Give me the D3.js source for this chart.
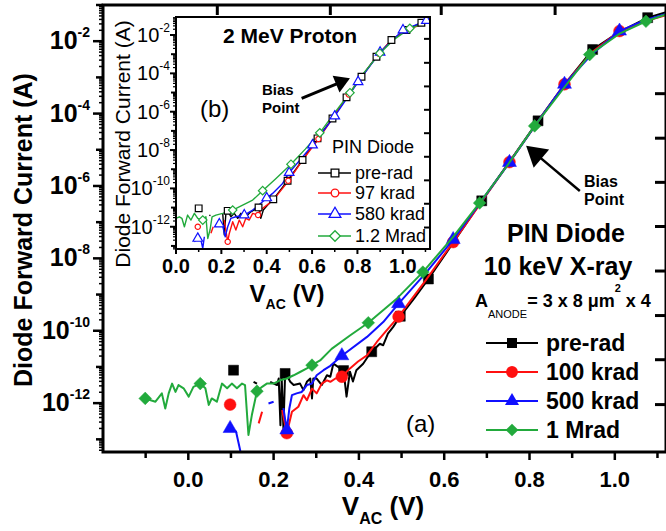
<!DOCTYPE html>
<html>
<head>
<meta charset="utf-8">
<script src="https://cdn.jsdelivr.net/npm/d3@7"></script>
<style>
body{margin:0;background:#fff}
svg{display:block;font-family:"Liberation Sans",Arial,sans-serif}
</style>
</head>
<body>
<div id="chart"></div>
<script>
// ---- data : [V_AC (V), log10 I (A)], null = no data (gap) ----
// main plot (a) 10 keV X-ray
var mainPrerad = [[0.153,-11.41],[0.161,-11.46],[0.175,null],[0.192,-11.41],[0.208,-11.50],[0.212,-11.32],[0.216,-12.61],[0.219,-11.32],[0.223,-12.70],[0.227,-11.18],[0.231,-11.23],[0.239,-11.41],[0.247,-11.50],[0.262,-11.46],[0.270,-11.64],[0.278,-11.41],[0.286,-11.32],[0.290,-11.87],[0.293,-11.32],[0.301,-11.32],[0.313,-11.50],[0.325,-11.23],[0.333,-11.27],[0.340,-10.91],[0.364,-11.10],[0.371,-11.82],[0.379,-11.13],[0.386,-11.40],[0.394,-11.09],[0.410,-10.91],[0.426,-10.63],[0.430,-10.58],[0.449,-10.36],[0.457,-10.40],[0.468,-10.08],[0.480,-9.90],[0.497,-9.60],[0.530,-9.10],[0.563,-8.57],[0.625,-7.50],[0.688,-6.41],[0.755,-5.30],[0.820,-4.20],[0.885,-3.15],[0.948,-2.23],[1.010,-1.75],[1.077,-1.35],[1.120,-1.20]];
var mainPreradMarks = [[0.106,-11.09],[0.227,-11.18],[0.364,-11.10],[0.430,-10.58],[0.497,-9.60],[0.563,-8.57],[0.688,-6.41],[0.820,-4.20],[0.948,-2.23],[1.077,-1.35]];

var main100k = [[0.165,-12.56],[0.173,-12.24],[0.195,null],[0.220,-12.19],[0.231,-12.83],[0.243,-12.24],[0.258,-12.10],[0.270,-11.78],[0.278,-11.92],[0.290,-11.60],[0.301,-11.73],[0.313,-11.46],[0.325,-11.37],[0.333,-11.41],[0.345,-11.32],[0.360,-11.27],[0.379,-11.04],[0.398,-10.85],[0.419,-10.68],[0.442,-10.31],[0.465,-9.99],[0.493,-9.61],[0.557,-8.60],[0.621,-7.55],[0.687,-6.45],[0.753,-5.34],[0.818,-4.25],[0.882,-3.19],[0.947,-2.30],[1.011,-1.72],[1.070,-1.45],[1.120,-1.28]];
var main100kMarks = [[0.098,-12.04],[0.231,-12.83],[0.360,-11.27],[0.493,-9.61],[0.621,-7.55],[0.753,-5.34],[0.882,-3.19],[1.011,-1.72]];

var main500k = [[0.098,-12.70],[0.112,-12.79],[0.122,-13.32],[0.160,null],[0.188,-12.01],[0.200,-11.96],[0.212,null],[0.223,-12.14],[0.231,-12.74],[0.237,-12.14],[0.243,-11.78],[0.254,-11.73],[0.266,-11.69],[0.278,-11.50],[0.290,-11.46],[0.301,-11.23],[0.317,-11.09],[0.333,-10.97],[0.360,-10.69],[0.419,-10.17],[0.457,-9.76],[0.493,-9.25],[0.557,-8.40],[0.621,-7.48],[0.687,-6.42],[0.753,-5.35],[0.818,-4.25],[0.882,-3.19],[0.947,-2.35],[1.011,-1.72],[1.070,-1.42],[1.120,-1.25]];
var main500kMarks = [[0.098,-12.70],[0.231,-12.74],[0.360,-10.69],[0.493,-9.25],[0.621,-7.48],[0.753,-5.35],[0.882,-3.19],[1.011,-1.72]];

var main1M = [[-0.101,-11.87],[-0.077,-11.96],[-0.062,-11.73],[-0.054,-12.15],[-0.046,-11.73],[-0.038,-11.46],[-0.030,-11.69],[-0.023,-11.50],[-0.011,-11.59],[0.001,-11.82],[0.012,-11.55],[0.028,-11.46],[0.040,-11.59],[0.048,-12.05],[0.055,-11.87],[0.067,-11.96],[0.079,-11.46],[0.091,-11.59],[0.102,-11.46],[0.114,-11.59],[0.126,-11.46],[0.133,-11.50],[0.141,-12.88],[0.149,-12.33],[0.161,-11.67],[0.173,-11.55],[0.184,-11.46],[0.200,-11.46],[0.215,-11.37],[0.231,-11.32],[0.247,-11.23],[0.262,-11.14],[0.278,-11.04],[0.290,-10.95],[0.309,-10.82],[0.336,-10.50],[0.379,-10.13],[0.422,-9.78],[0.490,-9.10],[0.550,-8.38],[0.620,-7.42],[0.683,-6.47],[0.750,-5.40],[0.812,-4.34],[0.880,-3.30],[0.941,-2.37],[1.010,-1.80],[1.073,-1.45],[1.120,-1.26]];
var main1MMarks = [[-0.101,-11.87],[0.028,-11.46],[0.161,-11.67],[0.290,-10.95],[0.422,-9.78],[0.550,-8.38],[0.683,-6.47],[0.812,-4.34],[0.941,-2.37],[1.073,-1.45]];

// inset (b) 2 MeV proton
var insetPrerad = [[0.147,-11.39],[0.152,-11.42],[0.180,null],[0.206,-11.30],[0.213,-12.43],[0.220,-11.30],[0.228,-11.17],[0.242,-11.48],[0.257,-11.30],[0.272,-11.56],[0.286,-11.30],[0.308,-11.48],[0.330,-11.22],[0.364,-10.99],[0.374,-11.56],[0.385,-11.13],[0.404,-10.87],[0.429,-10.57],[0.455,-10.17],[0.492,-9.60],[0.558,-8.52],[0.624,-7.39],[0.690,-6.35],[0.752,-5.25],[0.818,-4.18],[0.884,-3.13],[0.950,-2.26],[1.016,-1.74],[1.082,-1.36],[1.120,-1.20]];
var insetPreradMarks = [[0.100,-11.04],[0.228,-11.17],[0.364,-10.99],[0.429,-10.57],[0.492,-9.60],[0.558,-8.52],[0.624,-7.39],[0.690,-6.35],[0.752,-5.25],[0.818,-4.18],[0.884,-3.13],[0.950,-2.26],[1.016,-1.74],[1.082,-1.36]];

var inset97k = [[0.154,-12.34],[0.164,-12.00],[0.190,null],[0.213,-11.65],[0.220,-12.20],[0.228,-12.78],[0.235,-12.35],[0.250,-11.74],[0.264,-12.17],[0.279,-11.65],[0.294,-12.00],[0.308,-11.56],[0.323,-11.65],[0.338,-11.30],[0.360,-11.39],[0.382,-11.04],[0.411,-10.78],[0.441,-10.43],[0.470,-10.00],[0.499,-9.56],[0.558,-8.52],[0.631,-7.39],[0.690,-6.35],[0.752,-5.25],[0.818,-4.18],[0.884,-3.13],[0.950,-2.26],[1.016,-1.74],[1.120,-1.30]];
var inset97kMarks = [[0.096,-12.00],[0.228,-12.78],[0.362,-11.39],[0.495,-9.60],[0.628,-7.42],[0.762,-5.10],[0.895,-2.98],[1.028,-1.68]];

var inset580k = [[0.081,-12.78],[0.096,-12.61],[0.110,-12.69],[0.118,-13.13],[0.125,-12.52],[0.150,null],[0.176,-12.00],[0.191,-11.86],[0.206,-11.96],[0.217,-12.52],[0.228,-12.00],[0.242,-11.56],[0.264,-11.48],[0.301,-11.39],[0.338,-11.13],[0.382,-10.70],[0.426,-10.26],[0.470,-9.74],[0.499,-9.18],[0.602,-7.74],[0.700,-6.23],[0.803,-4.44],[0.900,-2.90],[1.001,-1.74],[1.104,-1.25],[1.120,-1.20]];
var inset580kMarks = [[0.096,-12.61],[0.191,-11.86],[0.301,-11.39],[0.400,-10.50],[0.499,-9.18],[0.602,-7.74],[0.700,-6.23],[0.803,-4.44],[0.900,-2.90],[1.001,-1.74],[1.104,-1.25]];

var inset1M2 = [[0.000,-11.56],[0.015,-11.48],[0.026,-11.56],[0.037,-12.00],[0.051,-11.39],[0.066,-11.65],[0.081,-11.30],[0.096,-11.56],[0.118,-11.65],[0.132,-11.48],[0.140,-12.61],[0.150,-12.17],[0.159,-11.48],[0.176,-11.39],[0.206,-11.30],[0.250,-11.13],[0.294,-10.87],[0.338,-10.61],[0.382,-10.12],[0.441,-9.48],[0.507,-8.74],[0.570,-7.95],[0.634,-7.10],[0.700,-6.05],[0.767,-5.01],[0.830,-3.95],[0.899,-2.95],[0.965,-2.20],[1.031,-1.65],[1.120,-1.30]];
var inset1M2Marks = [[0.118,-11.65],[0.250,-11.13],[0.382,-10.12],[0.507,-8.74],[0.634,-7.10],[0.767,-5.01],[0.899,-2.95],[1.031,-1.65]];

var mainNames = ["pre-rad","100 krad","500 krad","1 Mrad"];
var insetNames = ["pre-rad","97 krad","580 krad","1.2 Mrad"];
var colors = ["#000000","#ff1010","#1010ff","#22aa3c"];

var xMajor = [0.0,0.2,0.4,0.6,0.8,1.0];
var xMinorMain = [-0.1,0.1,0.3,0.5,0.7,0.9,1.1];
var xMinorInset = [0.1,0.3,0.5,0.7,0.9,1.1];
var yLabelExp = [-12,-10,-8,-6,-4,-2];
var topTickV = [0.068,0.333,0.593,0.86];
var rightTickLog = [-2.2,-3.45,-4.68,-5.9,-7.12,-8.35,-9.58,-10.8,-12.04];
// annotation arrows [tail, tip] in data units
var mainArrow = [[0.918,-6.14],[0.792,-4.89]];
var insetArrow = [[0.554,-5.30],[0.767,-4.26]];

var W = 666, H = 531;
var svg = d3.select("#chart").append("svg").attr("width", W).attr("height", H);

// scales
var x = d3.scaleLinear().domain([-0.2, 1.12]).range([103, 666]);
var y = d3.scaleLog().domain([Math.pow(10,-13.35), 0.1]).range([452, 5]);
var xi = d3.scaleLinear().domain([0, 1.12]).range([176, 430]);
var yi = d3.scaleLog().domain([Math.pow(10,-13.16), Math.pow(10,-1.06)]).range([249, 17]);

function p10(e){ return Math.pow(10, e); }

// minor log ticks
function minorLog(sc){
  var out = [], dom = sc.domain();
  for (var e = -14; e <= -1; e++) for (var m = 2; m <= 9; m++) {
    var v = m * p10(e);
    if (v >= dom[0] && v <= dom[1]) out.push(v);
  }
  return out;
}
function hTicks(g, vals, sc, x0, len, sw){
  g.selectAll(null).data(vals).enter().append("line")
    .attr("x1", x0).attr("x2", x0 + len)
    .attr("y1", function(d){ return sc(d); }).attr("y2", function(d){ return sc(d); })
    .attr("stroke", "#000").attr("stroke-width", sw);
}
function vTicks(g, vals, sc, y0, len, sw){
  g.selectAll(null).data(vals).enter().append("line")
    .attr("y1", y0).attr("y2", y0 + len)
    .attr("x1", function(d){ return sc(d); }).attr("x2", function(d){ return sc(d); })
    .attr("stroke", "#000").attr("stroke-width", sw);
}

// symbols
var symTypes = [d3.symbolSquare, d3.symbolCircle, d3.symbolTriangle, d3.symbolSquare];
function drawMarks(g, pts, k, sx, sy, sizes, open, sw){
  g.selectAll(null).data(pts).enter().append("path")
    .attr("d", d3.symbol().type(symTypes[k]).size(sizes[k]))
    .attr("transform", function(d){
      var t = "translate(" + sx(d[0]) + "," + sy(p10(d[1])) + ")";
      return k == 3 ? t + " rotate(45)" : t;
    })
    .attr("fill", open ? "#fff" : colors[k])
    .attr("stroke", colors[k])
    .attr("stroke-width", open ? sw : 0.5);
}

function arrow(g, a, sx, sy, headLen, headW, sw){
  var x1 = sx(a[0][0]), y1 = sy(p10(a[0][1])), x2 = sx(a[1][0]), y2 = sy(p10(a[1][1]));
  var dx = x2 - x1, dy = y2 - y1, L = Math.sqrt(dx*dx + dy*dy), ux = dx/L, uy = dy/L;
  var bx = x2 - ux*headLen, by = y2 - uy*headLen;
  g.append("line").attr("x1", x1).attr("y1", y1).attr("x2", bx + ux*2).attr("y2", by + uy*2)
    .attr("stroke", "#000").attr("stroke-width", sw);
  g.append("path").attr("d", "M" + x2 + "," + y2 + "L" + (bx - uy*headW) + "," + (by + ux*headW) +
      "L" + (bx + uy*headW) + "," + (by - ux*headW) + "Z").attr("fill", "#000");
}

// ================= main plot =================
var mainSeries = [mainPrerad, main100k, main500k, main1M];
var mainMarks = [mainPreradMarks, main100kMarks, main500kMarks, main1MMarks];

svg.append("clipPath").attr("id", "clipMain").append("rect")
  .attr("x", 103).attr("y", 5).attr("width", 563).attr("height", 447);

var gm = svg.append("g").attr("clip-path", "url(#clipMain)");
var lineMain = d3.line().defined(function(d){ return d[1] !== null; })
  .x(function(d){ return x(d[0]); }).y(function(d){ return y(p10(d[1])); });

mainSeries.forEach(function(s, k){
  gm.append("path").datum(s).attr("d", lineMain)
    .attr("fill", "none").attr("stroke", colors[k]).attr("stroke-width", 2).attr("stroke-linejoin", "round");
  drawMarks(gm, mainMarks[k], k, x, y, [100, 110, 85, 80], false, 0);
});

// frame & ticks
var ga = svg.append("g");
ga.append("rect").attr("x", 103).attr("y", 5).attr("width", 563).attr("height", 447)
  .attr("fill", "none").attr("stroke", "#000").attr("stroke-width", 3);
hTicks(ga, yLabelExp.map(p10), y, 103, -10, 2.5);
hTicks(ga, [-13,-11,-9,-7,-5,-3,-1].map(p10), y, 103, -7, 2.5);
hTicks(ga, minorLog(y), y, 103, -4, 1.5);
vTicks(ga, xMajor, x, 452, 8, 2.5);
vTicks(ga, xMinorMain, x, 452, 6, 2.5);
vTicks(ga, topTickV, x, 5, 10, 3);
hTicks(ga, rightTickLog.map(p10), y, 666, -11, 3);

ga.selectAll(null).data(xMajor).enter().append("text")
  .attr("x", function(d){ return x(d); }).attr("y", 487)
  .attr("text-anchor", "middle").attr("font-weight", "bold").attr("font-size", 22)
  .text(function(d){ return d.toFixed(1); });

ga.selectAll(null).data(yLabelExp).enter().append("text")
  .attr("x", 90).attr("y", function(d){ return y(p10(d)) + 8; })
  .attr("text-anchor", "end").attr("font-weight", "bold").attr("font-size", 25)
  .each(function(d){
    var t = d3.select(this);
    t.append("tspan").text("10");
    t.append("tspan").attr("dy", -12).attr("font-size", 14).text(d);
  });

// axis titles
var xt = svg.append("text").attr("x", 383).attr("y", 515).attr("text-anchor", "middle")
  .attr("font-weight", "bold").attr("font-size", 26);
xt.append("tspan").text("V");
xt.append("tspan").attr("dy", 9).attr("font-size", 16).text("AC");
xt.append("tspan").attr("dy", -9).text(" (V)");

svg.append("text").attr("transform", "translate(32,230) rotate(-90)")
  .attr("text-anchor", "middle").attr("font-weight", "bold").attr("font-size", 25)
  .text("Diode Forward Current (A)");

// main annotations
arrow(svg, mainArrow, x, y, 20, 12, 2.5);
svg.append("text").attr("x", 584).attr("y", 187).attr("font-weight", "bold").attr("font-size", 16).text("Bias");
svg.append("text").attr("x", 584).attr("y", 205).attr("font-weight", "bold").attr("font-size", 16).text("Point");

svg.append("text").attr("x", 566).attr("y", 242).attr("text-anchor", "middle")
  .attr("font-weight", "bold").attr("font-size", 25).text("PIN Diode");
svg.append("text").attr("x", 558).attr("y", 275).attr("text-anchor", "middle")
  .attr("font-weight", "bold").attr("font-size", 25).text("10 keV X-ray");
var an = svg.append("text").attr("x", 475).attr("y", 307).attr("font-weight", "bold").attr("font-size", 18);
an.append("tspan").text("A");
an.append("tspan").attr("dy", 11).attr("font-size", 11).attr("font-weight", "normal").text("ANODE");
an.append("tspan").attr("dy", -11).text("= 3 x 8 \u03bcm");
an.append("tspan").attr("dy", -15).attr("font-size", 11).text("2");
an.append("tspan").attr("dy", 15).text(" x 4");

svg.append("text").attr("x", 406).attr("y", 432).attr("font-size", 24).text("(a)");

// main legend
var lgm = svg.append("g");
var mainLegY = [343, 372, 401, 430];
mainNames.forEach(function(n, k){
  var yy = mainLegY[k];
  lgm.append("line").attr("x1", 486).attr("x2", 538).attr("y1", yy).attr("y2", yy)
    .attr("stroke", colors[k]).attr("stroke-width", 2);
  lgm.append("path").attr("d", d3.symbol().type(symTypes[k]).size([100, 110, 85, 80][k]))
    .attr("transform", "translate(512," + yy + ")" + (k == 3 ? " rotate(45)" : ""))
    .attr("fill", colors[k]);
  lgm.append("text").attr("x", 546).attr("y", yy + 8).attr("font-weight", "bold").attr("font-size", 23).text(n);
});

// ================= inset plot =================
var gi = svg.append("g");
gi.append("rect").attr("x", 176).attr("y", 17).attr("width", 254).attr("height", 232).attr("fill", "#fff");

svg.append("clipPath").attr("id", "clipIn").append("rect")
  .attr("x", 176).attr("y", 17).attr("width", 254).attr("height", 232);
var gid = gi.append("g").attr("clip-path", "url(#clipIn)");
var lineIn = d3.line().defined(function(d){ return d[1] !== null; })
  .x(function(d){ return xi(d[0]); }).y(function(d){ return yi(p10(d[1])); });

var insetSeries = [insetPrerad, inset97k, inset580k, inset1M2];
var insetMarks = [insetPreradMarks, inset97kMarks, inset580kMarks, inset1M2Marks];
insetSeries.forEach(function(s, k){
  gid.append("path").datum(s).attr("d", lineIn)
    .attr("fill", "none").attr("stroke", colors[k]).attr("stroke-width", 1.4).attr("stroke-linejoin", "round");
});
insetSeries.forEach(function(s, k){
  drawMarks(gid, insetMarks[k], k, xi, yi, [45, 22, 40, 36], true, 1.2);
});

gi.append("rect").attr("x", 176).attr("y", 17).attr("width", 254).attr("height", 232)
  .attr("fill", "none").attr("stroke", "#000").attr("stroke-width", 2);
hTicks(gi, yLabelExp.map(p10), yi, 176, -6, 2);
hTicks(gi, [-13,-11,-9,-7,-5,-3].map(p10), yi, 176, -5, 2);
hTicks(gi, minorLog(yi), yi, 176, -3, 1.2);
vTicks(gi, xMajor, xi, 249, 5, 2);
vTicks(gi, xMinorInset, xi, 249, 3, 1.5);
hTicks(gi, rightTickLog.map(p10), yi, 430, -6, 2);

gi.selectAll(null).data(xMajor).enter().append("text")
  .attr("x", function(d){ return xi(d); }).attr("y", 273)
  .attr("text-anchor", "middle").attr("font-weight", "bold").attr("font-size", 20)
  .text(function(d){ return d.toFixed(1); });
gi.selectAll(null).data(yLabelExp).enter().append("text")
  .attr("x", 170).attr("y", function(d){ return yi(p10(d)) + 7; })
  .attr("text-anchor", "end").attr("font-size", 20)
  .each(function(d){
    var t = d3.select(this);
    t.append("tspan").text("10");
    t.append("tspan").attr("dy", -10).attr("font-size", 12).text(d);
  });

var xti = gi.append("text").attr("x", 287).attr("y", 302).attr("text-anchor", "middle")
  .attr("font-weight", "bold").attr("font-size", 24);
xti.append("tspan").text("V");
xti.append("tspan").attr("dy", 7).attr("font-size", 14).text("AC");
xti.append("tspan").attr("dy", -7).text(" (V)");

gi.append("text").attr("transform", "translate(130,144) rotate(-90)")
  .attr("text-anchor", "middle").attr("font-size", 21).text("Diode Forward Current (A)");

gi.append("text").attr("x", 223).attr("y", 43).attr("font-weight", "bold").attr("font-size", 21).text("2 MeV Proton");
gi.append("text").attr("x", 200).attr("y", 117).attr("font-size", 24).text("(b)");
arrow(gi, insetArrow, xi, yi, 15, 9, 3);
gi.append("text").attr("x", 262).attr("y", 95).attr("font-weight", "bold").attr("font-size", 15).text("Bias");
gi.append("text").attr("x", 262).attr("y", 113).attr("font-weight", "bold").attr("font-size", 15).text("Point");

// inset legend
gi.append("text").attr("x", 332).attr("y", 153).attr("font-size", 18).text("PIN Diode");
var inLegY = [173, 193, 214, 236];
insetNames.forEach(function(n, k){
  var yy = inLegY[k];
  gi.append("line").attr("x1", 318).attr("x2", 351).attr("y1", yy).attr("y2", yy)
    .attr("stroke", colors[k]).attr("stroke-width", 1.4);
  gi.append("path").attr("d", d3.symbol().type(symTypes[k]).size([60, 45, 60, 55][k]))
    .attr("transform", "translate(335," + yy + ")" + (k == 3 ? " rotate(45)" : ""))
    .attr("fill", "#fff").attr("stroke", colors[k]).attr("stroke-width", 1.3);
  gi.append("text").attr("x", 355).attr("y", yy + 6).attr("font-size", 18).text(n);
});
</script>
</body>
</html>
